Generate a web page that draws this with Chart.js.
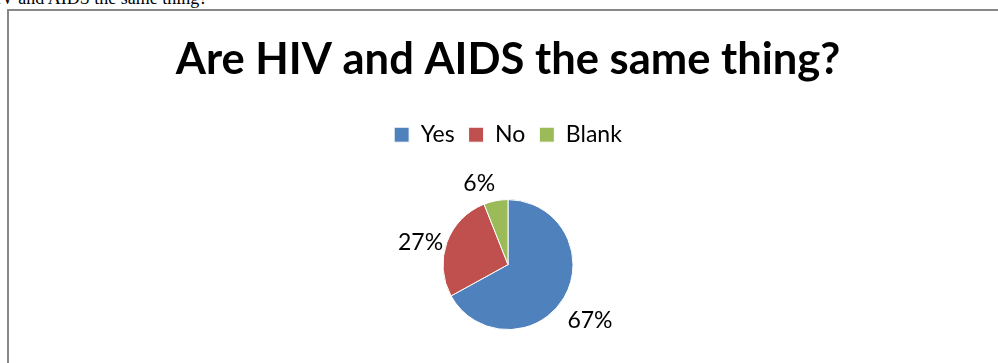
<!DOCTYPE html>
<html>
<head>
<meta charset="utf-8">
<script src="https://cdn.jsdelivr.net/npm/chart.js@4.4.1/dist/chart.umd.min.js"></script>
<style>
  html, body { margin: 0; padding: 0; background: #fff; overflow: hidden; }
  body { width: 998px; height: 363px; position: relative; }
  #lead {
    position: absolute; left: -18px; top: -12px;
    font: 18px/20px "Liberation Serif", serif; color: #000; white-space: nowrap;
  }
  #frame {
    position: absolute; left: 7px; top: 9px; width: 1100px; height: 500px;
    border: 2px solid #888; box-sizing: border-box;
  }
  /* a little taller than the window so the pie sits lower in the frame */
  #wrap { position: absolute; left: 0; top: 0; width: 998px; height: 373px; }
</style>
</head>
<body>
<div id="lead">HIV and AIDS the same thing?</div>
<div id="frame"></div>
<div id="wrap"><canvas id="pie"></canvas></div>
<script>
// answers to the survey question, in percent
const categories = ['Yes', 'No', 'Blank'];
const percents = [67, 27, 6];
const colors = ['#4F81BD', '#C0504D', '#9BBB59'];

const FONT = 'Lato, "Open Sans", sans-serif';

// percent labels just outside each slice
const outsideLabels = {
  id: 'outsideLabels',
  afterDatasetsDraw(chart) {
    const ctx = chart.ctx;
    const meta = chart.getDatasetMeta(0);
    const size = 23;
    ctx.save();
    ctx.font = size + 'px ' + FONT;
    ctx.fillStyle = '#000';
    ctx.textAlign = 'center';
    ctx.textBaseline = 'middle';
    meta.data.forEach((arc, i) => {
      const p = arc.getProps(['x', 'y', 'startAngle', 'endAngle', 'outerRadius'], true);
      const mid = (p.startAngle + p.endAngle) / 2;
      const text = percents[i] + '%';
      const w = ctx.measureText(text).width;
      const d = p.outerRadius + 4;
      const cx = p.x + Math.cos(mid) * d + Math.sign(Math.cos(mid)) * w / 2;
      const cy = p.y + Math.sin(mid) * (d + size) + size * 0.4;
      ctx.fillText(text, cx, cy);
    });
    ctx.restore();
  }
};

new Chart(document.getElementById('pie'), {
  type: 'pie',
  data: {
    labels: categories,
    datasets: [{
      data: percents,
      backgroundColor: colors,
      borderColor: '#fff',
      borderWidth: 1,
      radius: 65
    }]
  },
  options: {
    responsive: true,
    maintainAspectRatio: false,
    animation: false,
    layout: { padding: { left: 18, right: 0, top: 0, bottom: 0 } },
    plugins: {
      title: {
        display: true,
        text: 'Are HIV and AIDS the same thing?',
        color: '#000',
        font: { family: FONT, size: 43.5, weight: 'bold', lineHeight: 1.2 },
        padding: { top: 34, bottom: 23 }
      },
      legend: {
        display: true,
        position: 'top',
        labels: {
          color: '#000',
          font: { family: FONT, size: 23 },
          boxWidth: 15,
          boxHeight: 15,
          padding: 14
        }
      },
      tooltip: { enabled: false }
    }
  },
  plugins: [outsideLabels]
});
</script>
</body>
</html>
